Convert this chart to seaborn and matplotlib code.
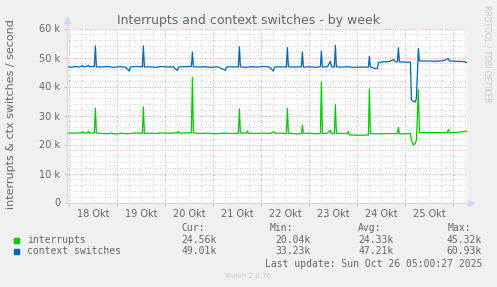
import matplotlib
matplotlib.use("Agg")
import matplotlib.pyplot as plt
import pandas as pd
import seaborn as sns

# ---------------- data (values in thousands / second) ----------------
# time axis: hours since Oct 17 23:00 (graph covers 200 hours)
irq_hours = [0, 3, 5, 7, 7.5, 8, 10, 10.5, 11, 13.5, 14, 14.5,
             17, 20, 22, 24, 27, 30, 33, 35, 37.5, 38, 38.5,
             41, 44, 47, 50, 53, 55, 55.5, 56, 59, 62, 62.5, 63,
             66, 70, 74, 78, 82, 85.5, 86, 86.5, 89.5, 90, 90.5,
             94, 98, 101, 103.5, 104, 107, 109.5, 110, 110.5,
             113, 115, 117, 117.5, 118, 121, 124, 126.5, 127, 127.5,
             130, 131.5, 132, 133.5, 134, 134.5, 137, 140, 140.5, 141,
             145, 148, 150.5, 151, 151.5, 154, 158, 162, 165, 165.5, 166,
             169, 171.5, 172, 173, 174, 174.5, 175.5, 176, 180, 185,
             190, 190.5, 191, 195, 199.5]
interrupts = [24.0, 23.9, 24.0, 24.0, 24.5, 23.9, 24.0, 24.6, 23.9, 24.0, 32.5, 24.0,
              23.8, 23.7, 23.9, 23.6, 23.9, 23.7, 23.9, 24.0, 23.9, 33.0, 23.8,
              23.9, 23.8, 24.0, 23.9, 24.0, 24.0, 24.5, 23.9, 24.0, 24.0, 43.2, 24.0,
              23.8, 23.9, 23.7, 23.9, 23.8, 23.9, 32.3, 24.0, 23.9, 24.6, 23.9,
              23.8, 23.9, 23.8, 24.4, 23.8, 23.9, 23.8, 32.5, 23.9,
              23.8, 23.6, 23.8, 26.6, 23.8, 23.9, 23.7, 23.8, 41.5, 23.8,
              23.9, 24.9, 23.8, 23.8, 33.9, 23.9, 23.8, 23.8, 24.5, 23.3,
              23.2, 23.2, 23.3, 39.1, 23.8, 23.7, 23.7, 23.8, 23.7, 25.9, 23.7,
              23.7, 23.8, 21.5, 19.8, 20.5, 21.5, 38.8, 24.1, 24.1, 24.1,
              24.1, 25.2, 24.1, 24.2, 24.6]

ctx_hours = [0, 2, 4, 6, 7.5, 8, 10, 10.5, 11, 13.5, 14, 14.5,
             17, 20, 23, 26, 29, 31, 31.5, 34, 37.5, 38, 38.5,
             41, 44, 47, 50, 53, 55, 55.5, 58, 62, 62.5, 63,
             66, 69, 72, 75, 79, 79.5, 82, 85.5, 86, 86.5,
             89, 92, 95, 98, 101, 103, 103.5, 106, 109.5, 110, 110.5,
             113, 117, 117.5, 118, 121, 124, 126.5, 127, 127.5,
             130, 131.5, 132, 133.5, 134, 134.5, 137, 140, 143, 146,
             150.5, 151, 151.5, 154, 155, 155.5, 158, 161, 163, 164, 165, 165.5, 166,
             169, 171.5, 172, 173, 174, 174.5, 175.5, 176, 180, 184,
             188, 190.5, 191, 195, 198, 199.5]
context_switches = [46.8, 46.6, 46.9, 46.7, 47.2, 46.7, 47.0, 47.3, 46.8, 46.9, 54.0, 46.8,
                    46.7, 46.9, 46.6, 46.8, 46.7, 45.3, 46.7, 46.9, 46.8, 54.0, 46.7,
                    46.8, 46.6, 46.9, 46.7, 46.8, 45.5, 46.7, 46.8, 46.9, 51.9, 46.8,
                    46.7, 46.8, 46.6, 46.8, 45.6, 46.7, 46.8, 46.7, 53.7, 46.8,
                    46.6, 46.8, 46.7, 46.9, 46.7, 45.3, 46.7, 46.8, 46.7, 53.4, 46.8,
                    46.7, 46.8, 51.9, 46.7, 46.8, 46.6, 46.8, 52.2, 46.7,
                    46.8, 48.7, 46.8, 46.7, 54.2, 46.8, 46.7, 46.8, 46.6, 46.7,
                    46.7, 50.4, 46.7, 46.2, 46.2, 48.3, 48.5, 48.6, 49.3, 48.6, 48.5, 53.4, 48.5,
                    48.4, 48.4, 35.5, 34.8, 34.7, 36.0, 53.1, 48.8, 48.8, 48.7,
                    48.9, 49.6, 48.8, 48.7, 48.6, 48.3]

day_labels = ["18 Okt", "19 Okt", "20 Okt", "21 Okt", "22 Okt", "23 Okt", "24 Okt", "25 Okt"]
y_ticks = [0, 10, 20, 30, 40, 50, 60]
y_tick_labels = ["0", "10 k", "20 k", "30 k", "40 k", "50 k", "60 k"]

series_names = ["interrupts", "context switches"]
series_colors = ["#00CC00", "#0066B3"]
cur_vals = ["24.56k", "49.01k"]
min_vals = ["20.04k", "33.23k"]
avg_vals = ["24.33k", "47.21k"]
max_vals = ["45.32k", "60.93k"]

title = "Interrupts and context switches - by week"
ylabel = "interrupts & ctx switches / second"
last_update = "Last update: Sun Oct 26 05:00:27 2025"

# ---------------- figure ----------------
W, H = 497, 287
FONT = "#666666"
AXIS = "#CFD6F8"
MGRID = "#F2A6A6"
GRID = "#D8D8D8"

fig = plt.figure(figsize=(W / 100, H / 100), dpi=100, facecolor="#F0F0F0")


def fx(x):
    return x / W


def fy(y):
    return 1 - y / H


left, right, top, bottom = 67.4, 467.4, 28.5, 202.5
ax = fig.add_axes([fx(left), fy(bottom), (right - left) / W, (bottom - top) / H])
ax.set_facecolor("white")
ax.set_xlim(0, 200)
ax.set_ylim(0, 60)

# grid
for h in range(1, 200, 6):
    major = (h - 1) % 24 == 0
    ax.axvline(h, color=MGRID if major else GRID, lw=0.72,
               ls=(0, (1, 1.5)), zorder=1)
for v in range(2, 61, 2):
    major = v % 10 == 0
    ax.axhline(v, color=MGRID if major else GRID, lw=0.72,
               ls=(0, (1, 1.5)), zorder=1)

df_irq = pd.DataFrame({"hour": irq_hours, "value": interrupts})
df_ctx = pd.DataFrame({"hour": ctx_hours, "value": context_switches})
sns.lineplot(data=df_irq, x="hour", y="value", ax=ax, color=series_colors[0],
             linewidth=0.9, estimator=None, sort=False, zorder=3)
sns.lineplot(data=df_ctx, x="hour", y="value", ax=ax, color=series_colors[1],
             linewidth=0.9, estimator=None, sort=False, zorder=3)
ax.set_xlabel("")
ax.set_ylabel("")

# ticks
noons = [13 + 24 * i for i in range(len(day_labels))]
midnights = [1 + 24 * i for i in range(len(day_labels) + 1)]
ax.set_xticks(noons)
ax.set_xticklabels(day_labels)
ax.set_xticks(midnights, minor=True)
ax.tick_params(axis="x", which="major", length=0, pad=5, labelsize=7, labelcolor=FONT)
ax.tick_params(axis="x", which="minor", length=2.5, width=0.7, color=MGRID)
ax.set_yticks(y_ticks)
ax.set_yticklabels(y_tick_labels)
ax.tick_params(axis="y", which="major", length=2, width=0.7, color=MGRID,
               pad=3, labelsize=7, labelcolor=FONT)

for s in ["top", "right"]:
    ax.spines[s].set_visible(False)
for s in ["left", "bottom"]:
    ax.spines[s].set_color(AXIS)
    ax.spines[s].set_linewidth(0.8)
    ax.spines[s].set_zorder(4)
ax.spines["left"].set_bounds(0, 62)
ax.spines["bottom"].set_bounds(-1.5, 201.5)
# arrows
ax.plot([0], [63], marker="^", ms=4, color=AXIS, clip_on=False, zorder=5)
ax.plot([202], [0], marker=">", ms=4, color=AXIS, clip_on=False, zorder=5)

# texts
fig.text(fx(248.5), fy(24), title, ha="center", va="baseline", fontsize=9, color=FONT)
fig.text(fx(11), fy(114), ylabel, ha="center", va="center", rotation=90,
         fontsize=8, color=FONT)
fig.text(fx(487), fy(5), "RRDTOOL / TOBI OETIKER", ha="center", va="top",
         rotation=-90, fontsize=5.5, color="#C8C8C8")

mono = "DejaVu Sans Mono"
fig.text(fx(181), fy(227.7), "Cur:", ha="left", va="center", family=mono, fontsize=7, color=FONT)
fig.text(fx(270), fy(227.7), "Min:", ha="left", va="center", family=mono, fontsize=7, color=FONT)
fig.text(fx(358.3), fy(227.7), "Avg:", ha="left", va="center", family=mono, fontsize=7, color=FONT)
fig.text(fx(447.7), fy(227.7), "Max:", ha="left", va="center", family=mono, fontsize=7, color=FONT)
rows_y = [240, 251.5]
for i, yy in enumerate(rows_y):
    fig.patches.append(plt.Rectangle((fx(14), fy(yy + 2.5)), 5 / W, 5 / H,
                                     transform=fig.transFigure, color=series_colors[i]))
    fig.text(fx(26.7), fy(yy), series_names[i], ha="left", va="center", family=mono,
             fontsize=7, color=FONT)
    fig.text(fx(181), fy(yy), cur_vals[i], ha="left", va="center", family=mono, fontsize=7, color=FONT)
    fig.text(fx(275), fy(yy), min_vals[i], ha="left", va="center", family=mono, fontsize=7, color=FONT)
    fig.text(fx(358.3), fy(yy), avg_vals[i], ha="left", va="center", family=mono, fontsize=7, color=FONT)
    fig.text(fx(446.7), fy(yy), max_vals[i], ha="left", va="center", family=mono, fontsize=7, color=FONT)
fig.text(fx(482), fy(264), last_update, ha="right", va="center", family=mono,
         fontsize=7, color=FONT)
fig.text(fx(248.5), fy(276.5), "Munin 2.0.76", ha="center", va="center",
         fontsize=5, color="#C8C8C8")

fig.savefig("out.png", dpi=100, facecolor=fig.get_facecolor())
